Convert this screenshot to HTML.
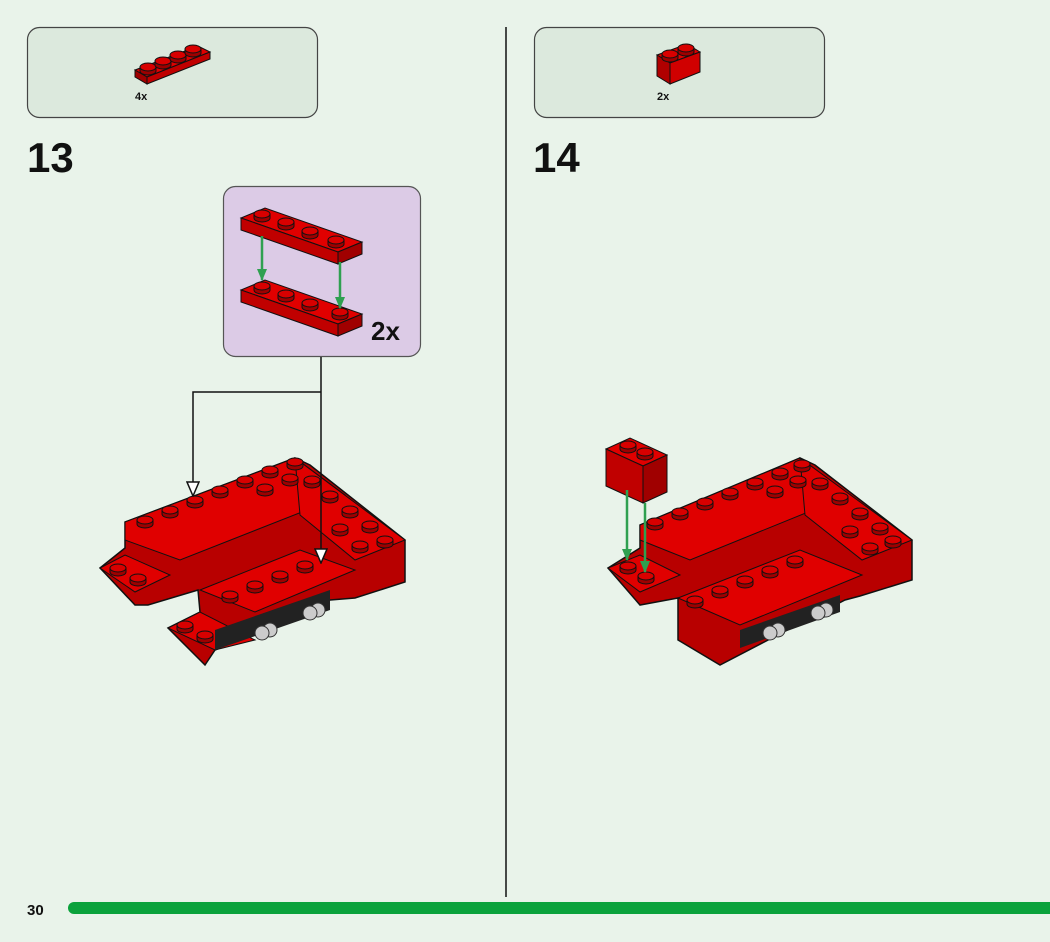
<!DOCTYPE html>
<html><head><meta charset="utf-8"><style>
html,body{margin:0;padding:0;background:#e9f3ea;}
svg{display:block}
text{font-family:"Liberation Sans",sans-serif;font-weight:bold;fill:#111}
</style></head><body>
<svg width="1050" height="942" viewBox="0 0 1050 942" xmlns="http://www.w3.org/2000/svg">
<defs>
<g id="stud"><path d="M-8,0 v4 a8,4 0 0 0 16,0 v-4 z" fill="#9e0000" stroke="#111" stroke-width="1"/><ellipse cx="0" cy="0" rx="8" ry="4" fill="#d80000" stroke="#111" stroke-width="1"/></g>
<marker id="ah" markerWidth="16" markerHeight="14" refX="14" refY="7" orient="auto" markerUnits="userSpaceOnUse"><path d="M1,1 L15,7 L1,13 z" fill="#fff" stroke="#111" stroke-width="1.5"/></marker>
<marker id="ga" markerWidth="12" markerHeight="10" refX="11" refY="5" orient="auto" markerUnits="userSpaceOnUse"><path d="M0,0 L12,5 L0,10 z" fill="#2fa050"/></marker>
</defs>
<rect width="1050" height="942" fill="#e9f3ea"/>
<rect x="27.5" y="27.5" width="290" height="90" rx="12" fill="#dce9dd" stroke="#444" stroke-width="1.2"/>
<rect x="534.5" y="27.5" width="290" height="90" rx="12" fill="#dce9dd" stroke="#444" stroke-width="1.2"/>
<polygon points="135,70 198,46 210,52 147,77" fill="#e00000" stroke="#111"/>
<polygon points="135,70 147,77 147,84 135,77" fill="#a00000" stroke="#111"/>
<polygon points="147,77 210,52 210,59 147,84" fill="#c00000" stroke="#111"/>
<use href="#stud" x="148" y="67"/><use href="#stud" x="163" y="61"/><use href="#stud" x="178" y="55"/><use href="#stud" x="193" y="49"/>
<text x="135" y="100" font-size="11">4x</text>
<polygon points="657,55 687,44 700,52 670,63" fill="#e00000" stroke="#111"/>
<polygon points="657,55 670,63 670,84 657,76" fill="#b00000" stroke="#111"/>
<polygon points="670,63 700,52 700,72 670,84" fill="#d00000" stroke="#111"/>
<use href="#stud" x="670" y="54"/><use href="#stud" x="686" y="48"/>
<text x="657" y="100" font-size="11">2x</text>
<text x="27" y="172" font-size="42">13</text>
<text x="533" y="172" font-size="42">14</text>
<line x1="506" y1="27" x2="506" y2="897" stroke="#111" stroke-width="1.5"/>
<rect x="223.5" y="186.5" width="197" height="170" rx="12" fill="#dccbe6" stroke="#555" stroke-width="1.2"/>
<polygon points="241,218 265,208 362,242 338,252" fill="#e00000" stroke="#111"/>
<polygon points="241,218 338,252 338,264 241,230" fill="#c00000" stroke="#111"/>
<polygon points="338,252 362,242 362,254 338,264" fill="#a00000" stroke="#111"/>
<use href="#stud" x="262" y="214"/><use href="#stud" x="286" y="222"/><use href="#stud" x="310" y="231"/><use href="#stud" x="336" y="240"/>
<polygon points="241,290 265,280 362,314 338,324" fill="#e00000" stroke="#111"/>
<polygon points="241,290 338,324 338,336 241,302" fill="#c00000" stroke="#111"/>
<polygon points="338,324 362,314 362,326 338,336" fill="#a00000" stroke="#111"/>
<use href="#stud" x="262" y="286"/><use href="#stud" x="286" y="294"/><use href="#stud" x="310" y="303"/><use href="#stud" x="340" y="312"/>
<line x1="262" y1="236" x2="262" y2="280" stroke="#2fa050" stroke-width="2.5" marker-end="url(#ga)"/>
<line x1="340" y1="262" x2="340" y2="308" stroke="#2fa050" stroke-width="2.5" marker-end="url(#ga)"/>
<text x="371" y="340" font-size="26">2x</text>
<polygon points="100,568 125,548 125,522 295,458 310,465 405,540 405,582 355,598 330,600 215,650 205,665 168,628 200,612 198,590 148,605 135,605" fill="#b80000" stroke="#111" stroke-width="1.5"/>
<polygon points="125,522 295,458 345,495 180,560 125,540" fill="#e00000" stroke="#111"/>
<polygon points="295,458 405,540 355,560 300,515" fill="#e00000" stroke="#111"/>
<polygon points="200,590 300,550 355,570 255,612" fill="#e00000" stroke="#111"/>
<polygon points="168,628 200,612 255,640 215,650" fill="#e00000" stroke="#111"/>
<polygon points="100,568 125,555 170,575 135,592" fill="#e00000" stroke="#111"/>
<polygon points="215,630 330,590 330,610 215,650" fill="#222"/>
<g fill="#ccc" stroke="#333"><circle cx="270" cy="630" r="7"/><circle cx="262" cy="633" r="7"/><circle cx="318" cy="610" r="7"/><circle cx="310" cy="613" r="7"/></g>
<g>
<use href="#stud" x="145" y="520"/><use href="#stud" x="170" y="510"/><use href="#stud" x="195" y="500"/><use href="#stud" x="220" y="490"/><use href="#stud" x="245" y="480"/><use href="#stud" x="270" y="470"/><use href="#stud" x="295" y="462"/>
<use href="#stud" x="265" y="488"/><use href="#stud" x="290" y="478"/><use href="#stud" x="312" y="480"/><use href="#stud" x="330" y="495"/><use href="#stud" x="350" y="510"/><use href="#stud" x="370" y="525"/><use href="#stud" x="340" y="528"/><use href="#stud" x="360" y="545"/><use href="#stud" x="385" y="540"/>
<use href="#stud" x="230" y="595"/><use href="#stud" x="255" y="585"/><use href="#stud" x="280" y="575"/><use href="#stud" x="305" y="565"/>
<use href="#stud" x="118" y="568"/><use href="#stud" x="138" y="578"/><use href="#stud" x="185" y="625"/><use href="#stud" x="205" y="635"/>
</g>
<polyline points="321,357 321,562" fill="none" stroke="#111" stroke-width="1.5" marker-end="url(#ah)"/>
<polyline points="321,392 193,392 193,495" fill="none" stroke="#111" stroke-width="1.5" marker-end="url(#ah)"/>
<polygon points="608,568 640,548 640,525 800,458 815,465 912,540 912,580 860,596 845,600 720,665 678,640 678,598 640,605" fill="#b80000" stroke="#111" stroke-width="1.5"/>
<polygon points="640,525 800,458 850,495 690,560 640,540" fill="#e00000" stroke="#111"/>
<polygon points="800,458 912,540 862,560 805,515" fill="#e00000" stroke="#111"/>
<polygon points="678,598 800,550 862,575 740,625" fill="#e00000" stroke="#111"/>
<polygon points="608,568 640,555 680,575 640,592" fill="#e00000" stroke="#111"/>
<polygon points="740,630 840,595 840,612 740,648" fill="#222"/>
<g fill="#ccc" stroke="#333"><circle cx="778" cy="630" r="7"/><circle cx="770" cy="633" r="7"/><circle cx="826" cy="610" r="7"/><circle cx="818" cy="613" r="7"/></g>
<g>
<use href="#stud" x="655" y="522"/><use href="#stud" x="680" y="512"/><use href="#stud" x="705" y="502"/><use href="#stud" x="730" y="492"/><use href="#stud" x="755" y="482"/><use href="#stud" x="780" y="472"/><use href="#stud" x="802" y="464"/>
<use href="#stud" x="775" y="490"/><use href="#stud" x="798" y="480"/><use href="#stud" x="820" y="482"/><use href="#stud" x="840" y="497"/><use href="#stud" x="860" y="512"/><use href="#stud" x="880" y="527"/><use href="#stud" x="850" y="530"/><use href="#stud" x="870" y="547"/><use href="#stud" x="893" y="540"/>
<use href="#stud" x="695" y="600"/><use href="#stud" x="720" y="590"/><use href="#stud" x="745" y="580"/><use href="#stud" x="770" y="570"/><use href="#stud" x="795" y="560"/>
<use href="#stud" x="628" y="566"/><use href="#stud" x="646" y="576"/>
</g>
<polygon points="606,449 630,438 667,455 643,466" fill="#e00000" stroke="#111"/>
<polygon points="606,449 643,466 643,503 606,486" fill="#c00000" stroke="#111"/>
<polygon points="643,466 667,455 667,492 643,503" fill="#a00000" stroke="#111"/>
<use href="#stud" x="628" y="445"/><use href="#stud" x="645" y="452"/>
<line x1="627" y1="490" x2="627" y2="560" stroke="#2fa050" stroke-width="2.5" marker-end="url(#ga)"/>
<line x1="645" y1="503" x2="645" y2="572" stroke="#2fa050" stroke-width="2.5" marker-end="url(#ga)"/>
<text x="27" y="915" font-size="15">30</text>
<path d="M74,902 H1050 V914 H74 a6,6 0 0 1 0,-12 z" fill="#0ba23c"/>
</svg>
</body></html>
